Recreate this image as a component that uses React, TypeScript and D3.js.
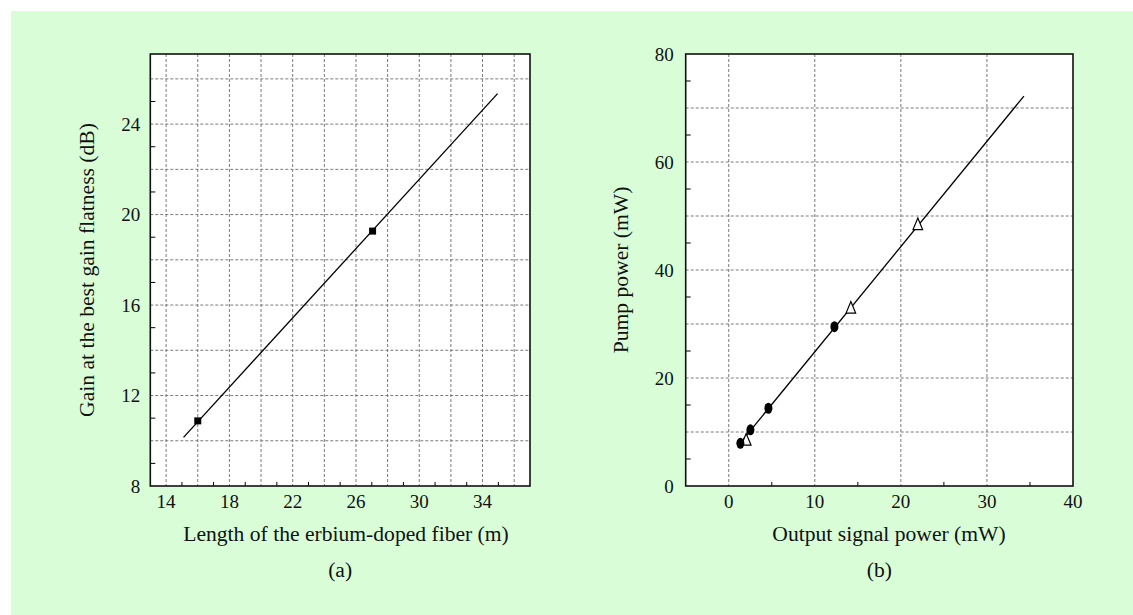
import React from "react";
import * as d3 from "d3";

// ---------- Panel (a) data ----------
const aSquaresX = [16.0, 27.05];
const aSquaresY = [10.88, 19.27];
const aFitX = [15.1, 34.95];
const aFitY = [10.15, 25.35];
const aGridX = [14, 16, 18, 20, 22, 24, 26, 28, 30, 32, 34, 36];
const aGridY = [10, 12, 14, 16, 18, 20, 22, 24, 26];
const aMinorX = [15, 17, 19, 21, 23, 25, 27, 29, 31, 33, 35];
const aMinorY = [9, 11, 13, 15, 17, 19, 21, 23, 25];
const aTickX = [14, 18, 22, 26, 30, 34];
const aTickY = [8, 12, 16, 20, 24];

// ---------- Panel (b) data ----------
const bCirclesX = [1.35, 2.52, 4.61, 12.28];
const bCirclesY = [7.9, 10.4, 14.4, 29.5];
const bTrianglesX = [2.03, 14.19, 21.97];
const bTrianglesY = [8.6, 33.05, 48.5];
const bFitX = [1.3, 34.3];
const bFitY = [7.9, 72.2];
const bGridX = [0, 10, 20, 30];
const bGridY = [10, 20, 30, 40, 50, 60, 70];
const bMinorX = [5, 15, 25, 35];
const bMinorY = [5, 15, 25, 35, 45, 55, 65, 75];
const bTickX = [0, 10, 20, 30, 40];
const bTickY = [0, 20, 40, 60, 80];

const FONT = "'Liberation Serif', 'Times New Roman', serif";
const TXT = "#111";
const GRID = "#7a7a7a";
const TICK_FS = 19;
const TITLE_FS = 21.6;

type PanelProps = {
  left: number; right: number; top: number; bottom: number;
  xDomain: [number, number]; yDomain: [number, number];
  gridX: number[]; gridY: number[]; minorX: number[]; minorY: number[];
  tickX: number[]; tickY: number[];
  xTitle: string; yTitle: string; label: string;
  xTitleX: number; yTitleX: number; yLabelGap: number;
  children: (x: d3.ScaleLinear<number, number>, y: d3.ScaleLinear<number, number>) => React.ReactNode;
};

function Panel(p: PanelProps) {
  const x = d3.scaleLinear().domain(p.xDomain).range([p.left, p.right]);
  const y = d3.scaleLinear().domain(p.yDomain).range([p.bottom, p.top]);
  const cx = (p.left + p.right) / 2;
  const cy = (p.top + p.bottom) / 2;
  return (
    <g>
      <rect x={p.left} y={p.top} width={p.right - p.left} height={p.bottom - p.top} fill="#fff" />
      {p.gridX.map((v) => (
        <line key={"gx" + v} x1={x(v)} x2={x(v)} y1={p.top} y2={p.bottom} stroke={GRID} strokeWidth={1} strokeDasharray="3,2" />
      ))}
      {p.gridY.map((v) => (
        <line key={"gy" + v} x1={p.left} x2={p.right} y1={y(v)} y2={y(v)} stroke={GRID} strokeWidth={1} strokeDasharray="3,2" />
      ))}
      {p.minorX.map((v) => (
        <line key={"mx" + v} x1={x(v)} x2={x(v)} y1={p.bottom} y2={p.bottom - 4} stroke="#000" strokeWidth={1} />
      ))}
      {p.minorY.map((v) => (
        <line key={"my" + v} x1={p.left} x2={p.left + 5} y1={y(v)} y2={y(v)} stroke="#000" strokeWidth={1} />
      ))}
      {p.children(x, y)}
      <rect x={p.left} y={p.top} width={p.right - p.left} height={p.bottom - p.top} fill="none" stroke="#111" strokeWidth={1.6} />
      {p.tickX.map((v) => (
        <text key={"tx" + v} x={x(v)} y={p.bottom + 22} textAnchor="middle" fontFamily={FONT} fontSize={TICK_FS} fill={TXT}>{v}</text>
      ))}
      {p.tickY.map((v) => (
        <text key={"ty" + v} x={p.left - p.yLabelGap} y={y(v) + 6.5} textAnchor="end" fontFamily={FONT} fontSize={TICK_FS} fill={TXT}>{v}</text>
      ))}
      <text x={p.xTitleX} y={p.bottom + 55} textAnchor="middle" fontFamily={FONT} fontSize={TITLE_FS} fill={TXT}>{p.xTitle}</text>
      <text x={cx} y={p.bottom + 91} textAnchor="middle" fontFamily={FONT} fontSize={TITLE_FS} fill={TXT}>{p.label}</text>
      <text transform={`translate(${p.yTitleX},${cy}) rotate(-90)`} textAnchor="middle" fontFamily={FONT} fontSize={TITLE_FS} fill={TXT}>{p.yTitle}</text>
    </g>
  );
}

export default function App() {
  const line = d3.line<[number, number]>();
  return (
    <svg width={1133} height={615} style={{ position: "absolute", left: 0, top: 0 }}>
      <rect x={11} y={11} width={1122} height={604} fill="#d9fdd7" />
      <Panel
        left={150.3} right={530} top={54} bottom={486}
        xDomain={[13, 37]} yDomain={[8, 27.1]}
        gridX={aGridX} gridY={aGridY} minorX={aMinorX} minorY={aMinorY}
        tickX={aTickX} tickY={aTickY}
        xTitle="Length of the erbium-doped fiber (m)"
        yTitle="Gain at the best gain flatness (dB)"
        label="(a)" xTitleX={346} yTitleX={94} yLabelGap={10}
      >
        {(x, y) => (
          <g>
            <path d={line(aFitX.map((v, i) => [x(v), y(aFitY[i])]) as [number, number][]) || ""} stroke="#000" strokeWidth={1.3} fill="none" />
            {aSquaresX.map((v, i) => (
              <rect key={"sq" + i} x={x(v) - 3.5} y={y(aSquaresY[i]) - 3.5} width={7} height={7} fill="#000" />
            ))}
          </g>
        )}
      </Panel>
      <Panel
        left={685.7} right={1073} top={54} bottom={486}
        xDomain={[-5, 40]} yDomain={[0, 80]}
        gridX={bGridX} gridY={bGridY} minorX={bMinorX} minorY={bMinorY}
        tickX={bTickX} tickY={bTickY}
        xTitle="Output signal power (mW)"
        yTitle="Pump power (mW)"
        label="(b)" xTitleX={889} yTitleX={628} yLabelGap={12}
      >
        {(x, y) => (
          <g>
            <path d={line(bFitX.map((v, i) => [x(v), y(bFitY[i])]) as [number, number][]) || ""} stroke="#000" strokeWidth={1.3} fill="none" />
            {bTrianglesX.map((v, i) => {
              const px = x(v), py = y(bTrianglesY[i]);
              return (
                <path key={"tr" + i} d={`M${px},${py - 6} L${px + 4.8},${py + 5.5} L${px - 4.8},${py + 5.5} Z`} fill="#fff" stroke="#000" strokeWidth={1.2} />
              );
            })}
            {bCirclesX.map((v, i) => (
              <ellipse key={"ci" + i} cx={x(v)} cy={y(bCirclesY[i])} rx={4} ry={5.5} fill="#000" />
            ))}
          </g>
        )}
      </Panel>
    </svg>
  );
}
